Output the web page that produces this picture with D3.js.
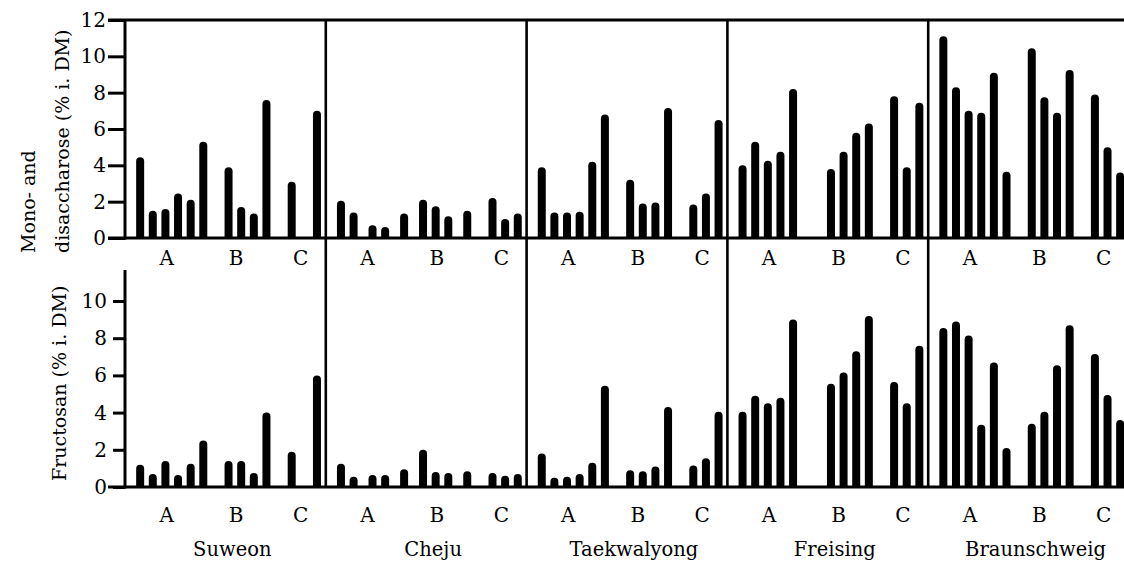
<!DOCTYPE html>
<html>
<head>
<meta charset="utf-8">
<script src="https://cdnjs.cloudflare.com/ajax/libs/d3/7.8.5/d3.min.js"></script>
<style>
  body { margin: 0; background: #fff; }
  svg text { font-family: "DejaVu Serif", "Liberation Serif", serif; fill: #000; }
</style>
</head>
<body>
<script>
const locations = ["Suweon", "Cheju", "Taekwalyong", "Freising", "Braunschweig"];
const subgroups = ["A", "B", "C"];
const subTickSlots = [2.1, 7.6, 12.7];
const sugarTicks = [0, 2, 4, 6, 8, 10, 12];
const fructosanTicks = [0, 2, 4, 6, 8, 10];

// where each bar sits inside its location: A = 0..5, B = 7..10, C = 12..14
const barSlots = [
  [0, 1, 2, 3, 4, 5, 7, 8, 9, 10, 12, 14],
  [0, 1, 2.5, 3.5, 5, 6.5, 7.5, 8.5, 10, 12, 13, 14],
  [0, 1, 2, 3, 4, 5, 7, 8, 9, 10, 12, 13, 14],
  [0, 1, 2, 3, 4, 7, 8, 9, 10, 12, 13, 14],
  [0, 1, 2, 3, 4, 5, 7, 8, 9, 10, 12, 13, 14]
];

const sugarValues = [
  [4.45, 1.5, 1.6, 2.45, 2.1, 5.3, 3.9, 1.7, 1.35, 7.6, 3.1, 7.0],
  [2.05, 1.4, 0.7, 0.6, 1.35, 2.1, 1.75, 1.2, 1.5, 2.2, 1.05, 1.35],
  [3.9, 1.4, 1.4, 1.45, 4.2, 6.8, 3.2, 1.9, 1.95, 7.15, 1.85, 2.45, 6.5],
  [4.0, 5.3, 4.25, 4.75, 8.2, 3.8, 4.75, 5.8, 6.3, 7.8, 3.9, 7.45],
  [11.1, 8.3, 7.0, 6.9, 9.1, 3.65, 10.45, 7.75, 6.9, 9.25, 7.9, 5.0, 3.6]
];

const fructosanValues = [
  [1.2, 0.7, 1.4, 0.65, 1.25, 2.5, 1.4, 1.4, 0.75, 4.0, 1.9, 6.0],
  [1.25, 0.55, 0.65, 0.65, 0.95, 2.0, 0.8, 0.75, 0.85, 0.75, 0.6, 0.7],
  [1.8, 0.5, 0.55, 0.7, 1.3, 5.45, 0.9, 0.85, 1.1, 4.3, 1.15, 1.55, 4.05],
  [4.05, 4.9, 4.5, 4.8, 9.0, 5.55, 6.15, 7.3, 9.2, 5.65, 4.5, 7.6],
  [8.55, 8.9, 8.15, 3.35, 6.7, 2.1, 3.4, 4.05, 6.55, 8.7, 7.15, 4.95, 3.6]
];

var width = 1124,
    height = 561,
    left = 125,
    barWidth = 8,
    ink = "#000";

var svg = d3.select("body").append("svg")
    .attr("width", width)
    .attr("height", height);

var x = d3.scaleBand().domain(locations).range([left, left + 5 * 200.8]);
var slot = d3.scaleLinear().domain([-1.2, 14.7]).range([0, x.bandwidth()]);
var yTop = d3.scaleLinear().domain([0, 12]).range([238, 20]);
var yBot = d3.scaleLinear().domain([0, 10]).range([487, 301]);

const panels = [
  { y: yTop, values: sugarValues, ticks: sugarTicks, tickSize: 17, pad: 2, axisTop: 20, labelY: 265 },
  { y: yBot, values: fructosanValues, ticks: fructosanTicks, tickSize: 12, pad: 6, axisTop: 270, labelY: 522 }
];

function barPath(cx, y0, y1) {
  const r = barWidth / 2;
  return `M${cx - r},${y0}V${y1 + r}A${r},${r} 0 0 1 ${cx + r},${y1 + r}V${y0}Z`;
}

function hline(y, x1, x2) {
  svg.append("line").attr("x1", x1).attr("x2", x2).attr("y1", y).attr("y2", y)
    .attr("stroke", ink).attr("stroke-width", 3);
}
function vline(xp, y1, y2, w) {
  svg.append("line").attr("x1", xp).attr("x2", xp).attr("y1", y1).attr("y2", y2)
    .attr("stroke", ink).attr("stroke-width", w || 3);
}

panels.forEach(function(p) {
  // bars
  locations.forEach(function(loc, i) {
    const data = p.values[i].map((v, j) => ({ v: v, s: barSlots[i][j] }));
    svg.append("g").selectAll("path")
      .data(data)
      .enter()
      .append("path")
      .attr("d", d => barPath(x(loc) + slot(d.s), p.y(0), p.y(d.v)))
      .attr("fill", ink);

    svg.append("g").selectAll("text")
      .data(subgroups)
      .enter()
      .append("text")
      .attr("x", (d, k) => x(loc) + slot(subTickSlots[k]))
      .attr("y", p.labelY)
      .attr("text-anchor", "middle")
      .style("font-size", "20px")
      .text(d => d);
  });

  const axis = d3.axisLeft(p.y)
    .tickValues(p.ticks)
    .tickSizeInner(p.tickSize)
    .tickSizeOuter(0)
    .tickPadding(p.pad)
    .tickFormat(d3.format("d"));

  const g = svg.append("g")
    .attr("transform", `translate(${left},0)`)
    .call(axis)
    .attr("font-family", null);
  g.select(".domain").remove();
  g.selectAll(".tick line").attr("stroke", ink).attr("stroke-width", 3);
  g.selectAll(".tick text")
    .style("font-size", "20px")
    .attr("fill", ink);

  vline(left, p.axisTop, p.y(0) + 1.5);
  hline(p.y(0), left - 17, width);
});

// frame line on top of the upper panel
hline(yTop(12), left - 17, width);

// separators between the locations, running through both panels
locations.slice(1).forEach(function(loc) {
  vline(x(loc), yTop(12), yBot(0), 2.6);
});

svg.append("g").selectAll("text")
  .data(locations)
  .enter()
  .append("text")
  .attr("x", d => x(d) + slot(7.3))
  .attr("y", 556)
  .attr("text-anchor", "middle")
  .style("font-size", "19.5px")
  .text(d => d);

function yTitle(txt, tx, ty) {
  svg.append("text")
    .attr("transform", `translate(${tx},${ty}) rotate(-90)`)
    .style("font-size", "19px")
    .text(txt);
}
yTitle("Mono- and", 35, 253);
yTitle("disaccharose (% i. DM)", 69, 253);
yTitle("Fructosan (% i. DM)", 66, 481);
</script>
</body>
</html>
